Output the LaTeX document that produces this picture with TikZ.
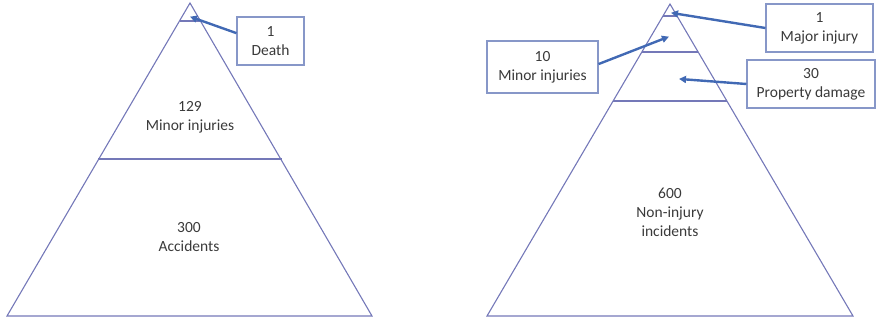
\documentclass[tikz,border=0pt]{standalone}
\usepackage{fontspec}
\setmainfont{Carlito}
\usetikzlibrary{arrows.meta}
\definecolor{pyr}{HTML}{7478B8}
\definecolor{boxc}{HTML}{8797C8}
\definecolor{arr}{HTML}{4169B4}
\definecolor{txt}{HTML}{3A3A3A}
\tikzset{
  pyrline/.style={draw=pyr, line width=1.1pt},
  lbl/.style={text=txt, align=center, font=\fontsize{15.5}{19}\selectfont, inner sep=0pt},
  callout/.style={draw=boxc, line width=1.1pt, fill=white, text=txt, align=center,
    font=\fontsize{15.5}{19}\selectfont, inner sep=0pt},
  pointer/.style={draw=arr, line width=2.4pt, -{Triangle[length=7pt,width=7pt]}, shorten >=-1pt}
}
\begin{document}
\begin{tikzpicture}[x=1pt,y=-1pt]
\useasboundingbox (0,0) rectangle (879,322);
% left pyramid
\coordinate (LA) at (190,3);
\coordinate (LL) at (7,316);
\coordinate (LR) at (372,316);
\draw[pyrline] (LA) -- (LL) -- (LR) -- cycle;
\draw[pyrline] (179.5,21) -- (200.5,21);
\draw[pyrline] (98,159) -- (282,159);
\node[lbl] (l129) at (190,117) {129\\Minor injuries};
\node[lbl] (l300) at (189,237) {300\\Accidents};
\node[callout, minimum width=67pt, minimum height=48pt] (death) at (270.5,41) {1\\Death};
\coordinate (dtip) at (191,17);
\draw[pointer] (death.167) -- (dtip);
% right pyramid
\coordinate (RA) at (670,4);
\coordinate (RL) at (487,316);
\coordinate (RR) at (853,316);
\draw[pyrline] (RA) -- (RL) -- (RR) -- cycle;
\draw[pyrline] (663,16) -- (677,16);
\draw[pyrline] (642,52) -- (698,52);
\draw[pyrline] (613,101) -- (727,101);
\node[lbl] (l600) at (670,212) {600\\Non-injury\\incidents};
\node[callout, minimum width=107pt, minimum height=48pt] (major) at (819.5,28) {1\\Major injury};
\node[callout, minimum width=111pt, minimum height=52pt] (minor) at (542.5,67) {10\\Minor injuries};
\node[callout, minimum width=128pt, minimum height=48pt] (prop) at (811,84) {30\\Property damage};
\coordinate (mjtip) at (672,13);
\coordinate (mntip) at (668,37);
\coordinate (prtip) at (680,79);
\draw[pointer] (major.west) -- (mjtip);
\draw[pointer] (minor.3) -- (mntip);
\draw[pointer] (prop.west) -- (prtip);
\end{tikzpicture}
\end{document}
